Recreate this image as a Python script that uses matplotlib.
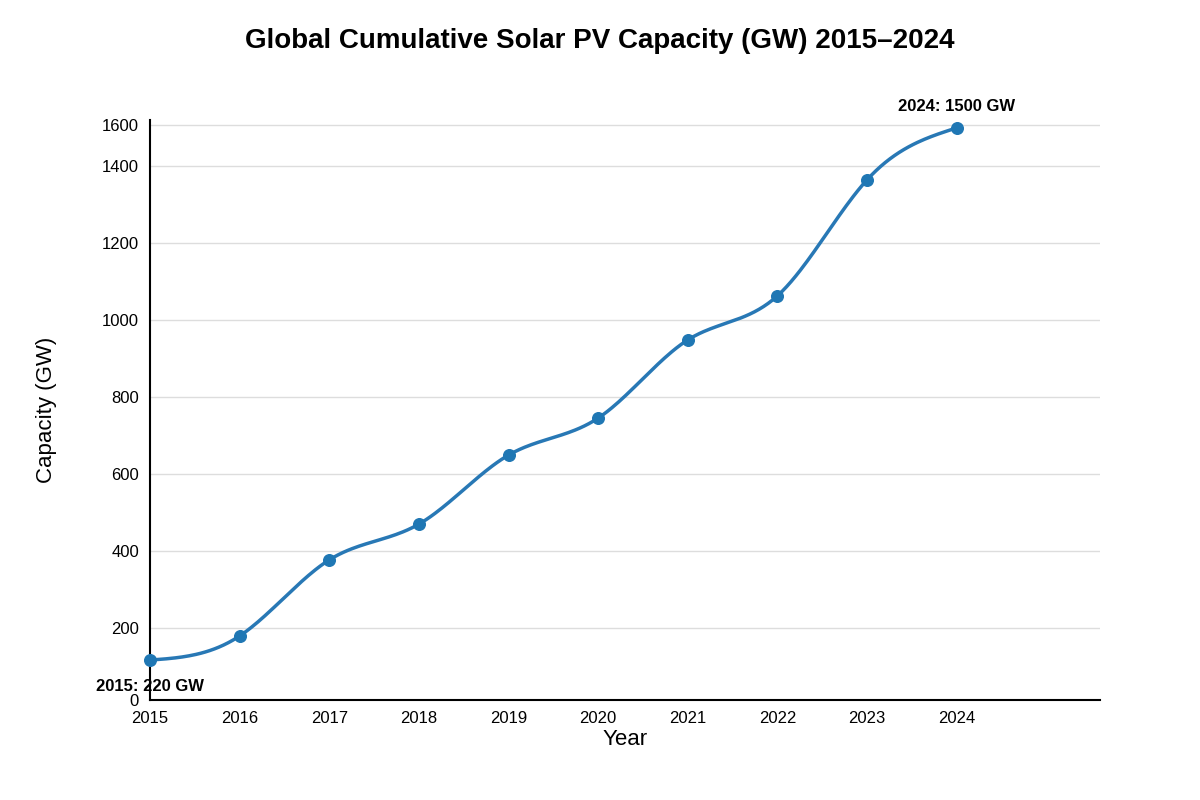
import matplotlib
matplotlib.use("Agg")
import matplotlib.pyplot as plt
import numpy as np

plt.rcParams['font.family'] = ['Liberation Sans', 'DejaVu Sans']

years = [2015, 2016, 2017, 2018, 2019, 2020, 2021, 2022, 2023, 2024]
capacity = [220, 278, 461, 547, 713, 802, 990, 1096, 1375, 1500]
# tick positions as drawn in the reference (its axis is not evenly spaced)
tick_vals = [124, 297, 482, 668, 853, 1038, 1223, 1409, 1507]
tick_labels = ['0', '200', '400', '600', '800', '1000', '1200', '1400', '1600']

def natural_spline(x, y, n=40):
    # natural cubic spline through the points, used only to draw the line
    x = np.asarray(x, float); y = np.asarray(y, float)
    k = len(x)
    h = np.diff(x)
    A = np.zeros((k, k)); b = np.zeros(k)
    A[0, 0] = A[-1, -1] = 1
    for i in range(1, k - 1):
        A[i, i-1] = h[i-1]; A[i, i] = 2*(h[i-1] + h[i]); A[i, i+1] = h[i]
        b[i] = 6*((y[i+1]-y[i])/h[i] - (y[i]-y[i-1])/h[i-1])
    m = np.linalg.solve(A, b)
    xs, ys = [], []
    for i in range(k - 1):
        t = np.linspace(x[i], x[i+1], n)
        a, c = x[i+1] - t, t - x[i]
        s = (m[i]*a**3 + m[i+1]*c**3)/(6*h[i]) + (y[i]/h[i] - m[i]*h[i]/6)*a \
            + (y[i+1]/h[i] - m[i+1]*h[i]/6)*c
        xs.extend(t); ys.extend(s)
    return np.array(xs), np.array(ys)

fig = plt.figure(figsize=(12, 8), dpi=100)
ax = fig.add_axes([0.125, 0.125, 0.7917, 0.725])

sx, sy = natural_spline(years, capacity)
ax.plot(sx, sy, color='#2878b5', lw=2.5, zorder=3, clip_on=False)
ax.scatter(years, capacity, s=70, color='#1f77b4', zorder=4, clip_on=False)

ax.set_xlim(2015, 2025.6)
ax.set_ylim(124, 1519)
ax.set_xticks(years)
ax.set_yticks(tick_vals)
ax.set_yticklabels(tick_labels)
ax.tick_params(length=0, labelsize=12, pad=8)
ax.grid(axis='y', color='#dddddd', lw=1)
ax.set_axisbelow(True)
for s in ['top', 'right']:
    ax.spines[s].set_visible(False)
ax.spines['left'].set_linewidth(1.5)
ax.spines['bottom'].set_linewidth(1.5)

ax.annotate('2015: 220 GW', (years[0], capacity[0]), xytext=(0, -22),
            textcoords='offset points', ha='center', fontsize=12, fontweight='bold')
ax.annotate('2024: 1500 GW', (years[-1], capacity[-1]), xytext=(0, 12),
            textcoords='offset points', ha='center', fontsize=12, fontweight='bold')

ax.set_xlabel('Year', fontsize=16, labelpad=2)
ax.set_ylabel('Capacity (GW)', fontsize=16, labelpad=32)
fig.suptitle('Global Cumulative Solar PV Capacity (GW) 2015\u20132024',
             fontsize=20, fontweight='bold', y=0.965)

fig.savefig('out.png')
